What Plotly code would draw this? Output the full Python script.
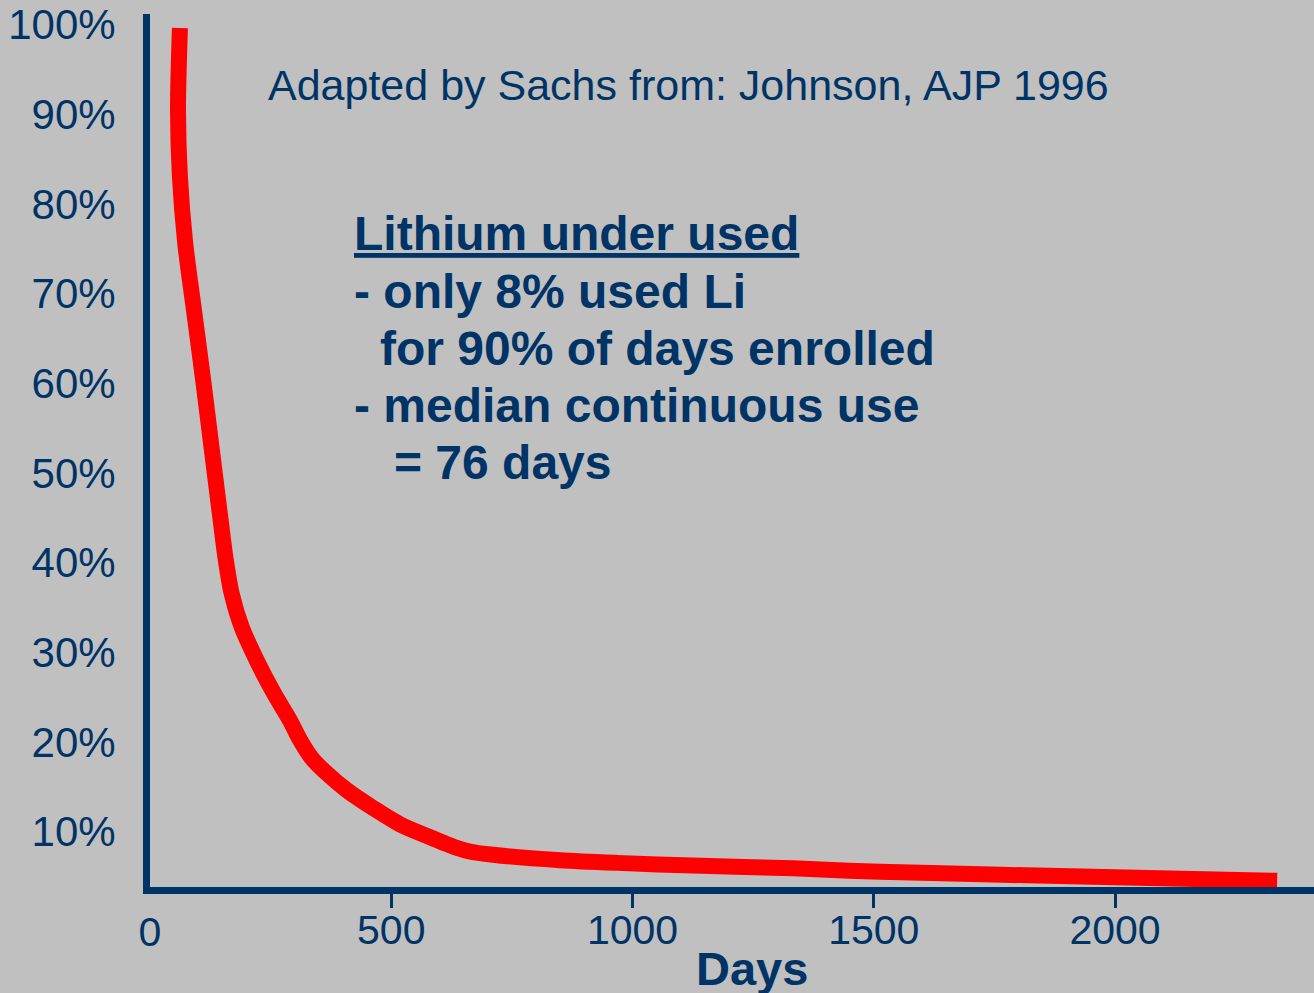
import plotly.graph_objects as go

# ---- data ----
days = [62, 58, 62, 73, 91, 110, 123, 136, 149, 157, 169, 190, 221, 257,
        290, 311, 335, 366, 408, 463, 518, 574, 629, 660, 711, 850, 968, 1125,
        1333, 1513, 2000, 2336]
pct_on_lithium = [99.6, 90.5, 83.0, 75.6, 68.2, 60.4, 54.8, 49.2, 43.6, 40.3,
                  36.6, 32.8, 29.1, 25.4, 22.4, 20.2, 18.2, 16.5, 14.6, 12.6, 10.8,
                  9.5, 8.3, 7.8, 7.4, 6.8, 6.5, 6.2, 5.9, 5.5, 4.9, 4.5]

x_tick_vals = [500, 1000, 1500, 2000]
x_tick_text = ["500", "1000", "1500", "2000"]
x_origin_val = [0]
x_origin_text = ["0"]
y_tick_vals = [10, 20, 30, 40, 50, 60, 70, 80, 90, 100]
y_tick_text = ["10%", "20%", "30%", "40%", "50%", "60%", "70%", "80%", "90%", "100%"]

source_note = "Adapted by Sachs from: Johnson, AJP 1996"
box_lines = [
    "<u>Lithium under used</u>",
    "- only 8% used Li",
    "for 90% of days enrolled",
    "- median continuous use",
    "= 76 days",
]
x_title = "Days"

# ---- styling ----
NAVY = "#003366"
RED = "#FF0000"
BG = "#C0C0C0"
FONT = "Liberation Sans, Arial, sans-serif"

W, H = 1314, 993
ML, MR, MT, MB = 150, 0, 14, 106
PW, PH = W - ML - MR, H - MT - MB
X_RANGE = [0, PW / 0.4825]
Y_RANGE = [3.81, 101.17]


def px_x(p):
    return (p - ML) / PW


def px_y(p):
    return (H - MB - p) / PH


fig = go.Figure()
fig.add_trace(go.Scatter(
    x=days, y=pct_on_lithium, mode="lines",
    line=dict(color=RED, width=16, shape="spline", smoothing=0.8),
    hoverinfo="skip", showlegend=False,
))
# empty trace so the overlaid x axis (which carries the "0" label) is drawn
fig.add_trace(go.Scatter(x=[], y=[], xaxis="x2", yaxis="y", mode="lines",
                         hoverinfo="skip", showlegend=False))

annotations = [
    dict(text=source_note, x=px_x(266), y=px_y(85), xanchor="left", yanchor="middle",
         font=dict(size=43, color=NAVY, family=FONT)),
]
line_pos = [(352, 233), (352, 291), (378, 348), (352, 406), (392, 463)]
for txt, (lx, ly) in zip(box_lines, line_pos):
    annotations.append(dict(text="<b>" + txt + "</b>", x=px_x(lx), y=px_y(ly),
                            xanchor="left", yanchor="middle",
                            font=dict(size=48, color=NAVY, family=FONT)))
annotations.append(dict(text="<b>" + x_title + "</b>", x=px_x(752), y=px_y(968),
                        xanchor="center", yanchor="middle",
                        font=dict(size=47, color=NAVY, family=FONT)))
for a in annotations:
    a.update(xref="paper", yref="paper", showarrow=False)

fig.update_layout(
    width=W, height=H,
    margin=dict(l=ML, r=MR, t=MT, b=MB, pad=0),
    paper_bgcolor=BG, plot_bgcolor=BG,
    font=dict(family=FONT, color=NAVY),
    annotations=annotations,
    xaxis=dict(
        range=X_RANGE, showgrid=False, zeroline=False,
        showline=True, linecolor=NAVY, linewidth=7,
        tickmode="array", tickvals=x_tick_vals, ticktext=x_tick_text,
        ticks="outside", ticklen=14, tickwidth=2.5, tickcolor=NAVY,
        ticklabelstandoff=-13,
        tickfont=dict(size=41, color=NAVY, family=FONT),
    ),
    # second (overlaid) x axis only carries the unticked "0" label at the origin
    xaxis2=dict(
        overlaying="x", anchor="y", side="bottom", range=X_RANGE,
        showgrid=False, zeroline=False, showline=False,
        tickmode="array", tickvals=x_origin_val, ticktext=x_origin_text,
        ticks="", ticklabelstandoff=17,
        tickfont=dict(size=41, color=NAVY, family=FONT),
    ),
    yaxis=dict(
        range=Y_RANGE, showgrid=False, zeroline=False,
        showline=True, linecolor=NAVY, linewidth=7,
        tickmode="array", tickvals=y_tick_vals, ticktext=y_tick_text,
        ticks="", ticklabelstandoff=19,
        tickfont=dict(size=42, color=NAVY, family=FONT),
    ),
)

fig.write_html(
    "out.html",
    config={"displayModeBar": False},
    post_script="document.body.style.margin='0';document.body.style.overflow='hidden';",
)
